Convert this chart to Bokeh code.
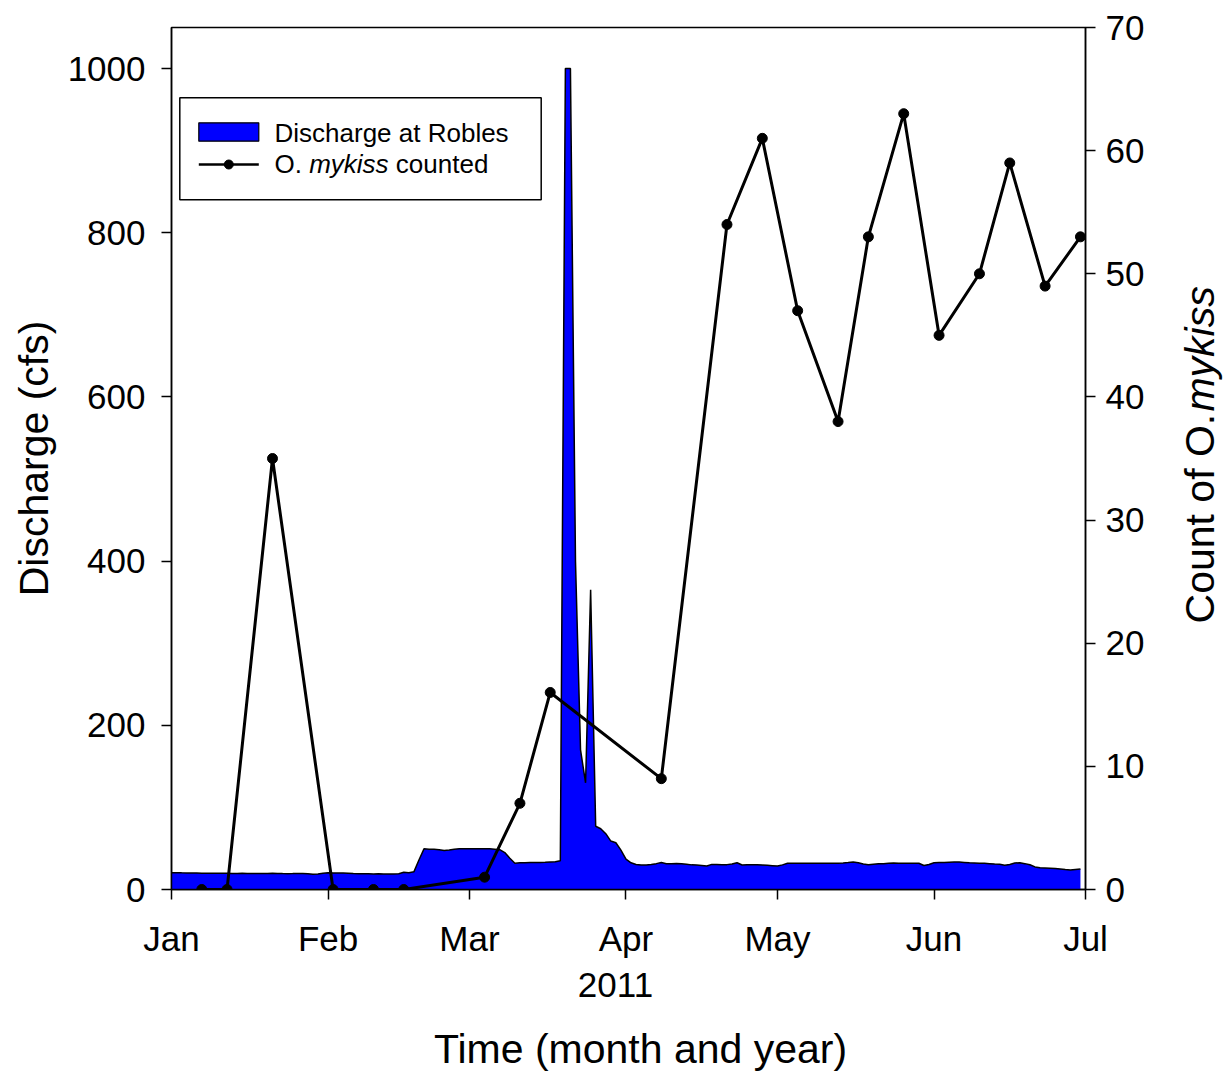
import math
from bokeh.plotting import figure
from bokeh.layouts import row, column
from bokeh.models import (Range1d, LinearAxis, FixedTicker, Label, BoxAnnotation)
from bokeh.embed import file_html
from bokeh.resources import INLINE

# ---------------- data ----------------
month_days = [0, 31, 59, 90, 120, 151, 181]
month_labels = ["Jan", "Feb", "Mar", "Apr", "May", "Jun", "Jul"]

# daily discharge at Robles (cfs), day 0 = 1 Jan 2011
flow_cfs = [
    20.5, 20.5, 20.3, 20.2, 20.0, 20.0, 19.9, 19.9, 19.8, 19.8,
    19.7, 19.7, 19.6, 19.6, 19.7, 19.5, 19.5, 19.4, 19.5, 19.6,
    19.8, 19.6, 19.4, 19.3, 19.4, 19.6, 19.5, 19.2, 18.7, 19.0,
    19.8, 20.3, 20.1, 20.0, 20.1, 19.8, 19.5, 19.3, 19.2, 19.1,
    19.0, 19.1, 19.0, 18.9, 19.0, 19.2, 21.0, 20.5, 21.5, 36.0,
    49.5, 49.0, 49.0, 48.5, 47.5, 48.0, 49.0, 49.5, 49.5, 49.5,
    49.5, 49.5, 49.5, 49.5, 49.0, 48.5, 45.0, 38.0, 32.0, 32.5,
    32.6, 32.8, 32.8, 33.0, 33.2, 33.5, 33.8, 35.0, 1000, 1000,
    400, 170, 130, 365, 77, 74, 68, 59, 57, 48,
    37, 32.5, 30.5, 29.8, 29.8, 30.5, 31.5, 33, 31.3, 31.5,
    31.7, 31.5, 30.8, 30, 29.8, 29.2, 28.6, 30.6, 30.4, 30.2,
    30.3, 31, 32.6, 29.8, 30, 30.2, 30.2, 29.8, 29.4, 29,
    28.6, 30, 31.9, 32, 32, 32, 31.9, 31.9, 32, 31.9,
    31.9, 31.9, 32, 32.3, 32.8, 33.5, 32.5, 31, 30.2, 30.8,
    31.3, 31.5, 32, 32.3, 32, 32, 32, 32, 31.9, 29.2,
    30.5, 32.6, 32.8, 33, 33.3, 33.5, 33.4, 33, 32.6, 32.3,
    32, 31.9, 31.5, 31, 30.7, 29.6, 30.5, 32.2, 32.6, 31.5,
    30.2, 27.5, 26.6, 26.3, 26, 25.6, 25, 24.3, 23.8, 24.5, 25,
]
flow_days = list(range(len(flow_cfs)))

# O. mykiss counts
fish_days = [6, 11, 20, 32, 40, 46, 62, 69, 75, 97, 110, 117, 124, 132, 138,
             145, 152, 160, 166, 173, 180]
fish_counts = [0, 0, 35, 0, 0, 0, 1, 7, 16, 9, 54, 61, 47, 38, 53, 63, 45, 50,
               59, 49, 53]

left_ticks = [0, 200, 400, 600, 800, 1000]
right_ticks = [0, 10, 20, 30, 40, 50, 60, 70]

FONT = "Liberation Sans"
BLUE = "#0000FF"

# ---------------- geometry ----------------
FRAME_W, FRAME_H = 914, 862
B_LEFT, B_TOP, B_RIGHT, B_BOTTOM = 171, 27, 62, 70
MAIN_W = B_LEFT + FRAME_W + B_RIGHT          # 1147
MAIN_H = B_TOP + FRAME_H + B_BOTTOM          # 959
SIDE_W = 80
BOT_H = 115
TOTAL_W = MAIN_W + SIDE_W

# ---------------- main figure ----------------
p = figure(output_backend="svg", toolbar_location=None,
           frame_width=FRAME_W, frame_height=FRAME_H,
           min_border_left=B_LEFT, min_border_top=B_TOP,
           min_border_right=B_RIGHT, min_border_bottom=B_BOTTOM,
           x_range=Range1d(0, 181), y_range=Range1d(0, 1050))
p.extra_y_ranges = {"count": Range1d(0, 70)}
p.xgrid.visible = False
p.ygrid.visible = False
p.outline_line_color = "black"
p.outline_line_width = 1.5
p.background_fill_color = "white"
p.border_fill_color = "white"

# discharge area
p.varea(x=flow_days, y1=0, y2=flow_cfs, fill_color=BLUE)
p.line(flow_days, flow_cfs, line_color="black", line_width=1.5)

# fish counts
p.line(fish_days, fish_counts, y_range_name="count", line_color="black", line_width=3)
p.scatter(fish_days, fish_counts, y_range_name="count", size=10,
          fill_color="black", line_color="black")

def style_axis(ax, size="35px"):
    ax.axis_line_color = "black"
    ax.axis_line_width = 1.5
    ax.major_tick_line_color = "black"
    ax.major_tick_line_width = 1.5
    ax.major_tick_out = 10
    ax.major_tick_in = 0
    ax.minor_tick_line_color = None
    ax.major_label_text_font = FONT
    ax.major_label_text_font_size = size
    ax.major_label_text_color = "black"
    ax.axis_label_text_font = FONT
    ax.axis_label_text_font_style = "normal"
    ax.axis_label_text_color = "black"

xa = p.xaxis[0]
style_axis(xa)
xa.ticker = FixedTicker(ticks=month_days)
xa.major_label_overrides = {d: lbl for d, lbl in zip(month_days, month_labels)}
xa.major_label_standoff = 19

ya = p.yaxis[0]
style_axis(ya)
ya.ticker = FixedTicker(ticks=left_ticks)
ya.major_label_standoff = 16
ya.axis_label = "Discharge (cfs)"
ya.axis_label_text_font_size = "41px"
ya.axis_label_standoff = 8

ra = LinearAxis(y_range_name="count")
style_axis(ra)
ra.ticker = FixedTicker(ticks=right_ticks)
ra.major_label_standoff = 10
p.add_layout(ra, "right")

# ---------------- legend (manual, for the italic name) ----------------
px_day = FRAME_W / 181.0
px_cfs = FRAME_H / 1050.0
FX, FY = B_LEFT, B_TOP  # frame top-left in page pixels

def dx(px):
    return (px - FX) / px_day

def dy(py):
    return (FY + FRAME_H - py) / px_cfs

p.add_layout(BoxAnnotation(left=dx(179.3), right=dx(540.7), top=dy(97.3), bottom=dy(199.3),
                           fill_color="white", fill_alpha=1.0,
                           line_color="black", line_alpha=1.0, line_width=1.5))
p.quad(left=[dx(198.3)], right=[dx(258.3)], top=[dy(122.3)], bottom=[dy(140.7)],
       fill_color=BLUE, line_color="black", line_width=1.2, level="overlay")
p.line([dx(198.3), dx(258.3)], [dy(164), dy(164)], line_color="black",
       line_width=2.4, level="overlay")
p.scatter([dx(228.3)], [dy(164)], size=9, fill_color="black", line_color="black",
          level="overlay")

leg_size = 26
def leg_label(px, py, txt, style="normal"):
    p.add_layout(Label(x=dx(px), y=dy(py), text=txt, text_align="left",
                       text_baseline="middle", text_font=FONT, text_font_style=style,
                       text_font_size=f"{leg_size}px", text_color="black"))

leg_label(274, 132, "Discharge at Robles")
x_o = 274
x_m = x_o + 1.334 * leg_size
x_c = x_m + (3.055 + 0.278) * leg_size
leg_label(x_o, 163.5, "O.")
leg_label(x_m, 163.5, "mykiss", "italic")
leg_label(x_c, 163.5, "counted")

# ---------------- side panel: right axis title ----------------
def text_panel(w, h):
    f = figure(output_backend="svg", toolbar_location=None, width=w, height=h,
               x_range=Range1d(0, w), y_range=Range1d(h, 0),
               min_border=0, min_border_left=0, min_border_right=0,
               min_border_top=0, min_border_bottom=0,
               x_axis_location=None, y_axis_location=None)
    f.grid.visible = False
    f.outline_line_color = None
    f.background_fill_color = "white"
    f.border_fill_color = "white"
    return f

side = text_panel(SIDE_W, MAIN_H)
rt_size = 41
cx = 1199 - MAIN_W
side.add_layout(Label(x=cx, y=547, text="Count of O.", angle=math.pi / 2,
                      text_align="center", text_baseline="middle",
                      text_font=FONT, text_font_size=f"{rt_size}px", text_color="black"))
side.add_layout(Label(x=cx, y=358, text="mykiss", angle=math.pi / 2,
                      text_align="center", text_baseline="middle",
                      text_font=FONT, text_font_style="italic",
                      text_font_size=f"{rt_size}px", text_color="black"))

# ---------------- bottom panel: x titles ----------------
bottom = text_panel(TOTAL_W, BOT_H)
bottom.add_layout(Label(x=615, y=983 - MAIN_H, text="2011", text_align="center",
                        text_baseline="middle", text_font=FONT,
                        text_font_size="35px", text_color="black"))
bottom.add_layout(Label(x=640, y=1047 - MAIN_H, text="Time (month and year)",
                        text_align="center", text_baseline="middle",
                        text_font=FONT, text_font_size="41px", text_color="black"))

layout = column(row(p, side, spacing=0), bottom, spacing=0)
open("out.html", "w").write(file_html(layout, INLINE))
